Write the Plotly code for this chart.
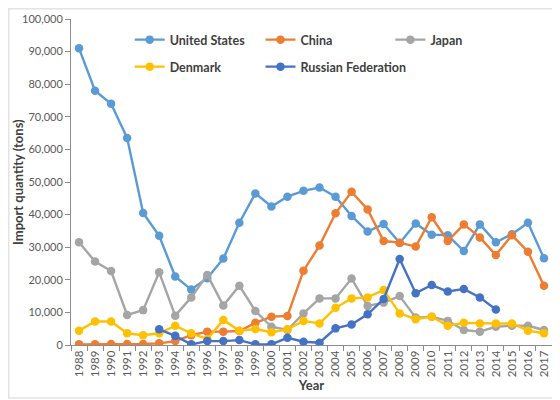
import plotly.graph_objects as go

years = [str(y) for y in range(1988, 2018)]

united_states = [91000, 78000, 74000, 63500, 40500, 33500, 21000, 17000, 20500, 26500,
                 37500, 46500, 42500, 45500, 47300, 48300, 45500, 39600, 34800, 37100,
                 31300, 37300, 33800, 33700, 28800, 37000, 31500, 34000, 37500, 26600]
china = [200, 200, 300, 300, 300, 500, 1200, 3000, 4100, 4100,
         4300, 6800, 8700, 8900, 22800, 30500, 40400, 47000, 41600, 31900,
         31400, 30200, 39200, 31900, 37000, 33000, 27600, 33700, 28600, 18200]
japan = [31500, 25600, 22700, 9200, 10700, 22300, 9000, 14600, 21500, 12100,
         18200, 10400, 5600, 4600, 9700, 14300, 14300, 20400, 12000, 13000,
         15000, 8400, 8700, 7400, 4600, 4100, 5600, 5900, 5900, 4600]
denmark = [4400, 7200, 7200, 3600, 3000, 3600, 5900, 3600, 1800, 7700,
           4400, 4900, 3900, 4800, 7400, 6600, 11400, 14300, 14600, 16900,
           9700, 7900, 8700, 5900, 6800, 6600, 6600, 6600, 4400, 3600]
russia = [None, None, None, None, None, 4800, 2800, 200, 1200, 1200,
          1500, 200, 200, 2200, 1000, 700, 5100, 6300, 9400, 14100,
          26400, 15900, 18400, 16400, 17200, 14600, 10900, None, None, None]

# (name, values, colour, legend id, legend x (paper), legend y (paper))
series = [
    ("United States", united_states, "#5B9BD5", "legend", 0.122, (346 - 41) / 326),
    ("China", china, "#ED7D31", "legend2", 0.394, (346 - 41) / 326),
    ("Japan", japan, "#A5A5A5", "legend3", 0.664, (346 - 41) / 326),
    ("Denmark", denmark, "#FFC000", "legend4", 0.122, (346 - 68) / 326),
    ("Russian Federation", russia, "#4472C4", "legend5", 0.394, (346 - 68) / 326),
]

FONT = "Lato"
TXT = "#404040"
TICK = "#595959"

fig = go.Figure()
legends = {}
for name, vals, color, lg, lx, ly in series:
    fig.add_trace(go.Scatter(
        x=years, y=vals, name=name, mode="lines+markers",
        line=dict(color=color, width=2.4),
        marker=dict(color=color, size=8.5),
        legend=lg,
    ))
    legends[lg] = dict(
        x=lx, y=ly, xanchor="left", yanchor="middle",
        font=dict(family=FONT, size=12.5, color=TXT, weight="bold"),
        bgcolor="rgba(0,0,0,0)", itemwidth=30,
    )

fig.update_layout(
    width=552, height=392,
    paper_bgcolor="white", plot_bgcolor="white",
    margin=dict(l=63, r=8, t=11, b=55),
    font=dict(family=FONT, color=TICK),
    showlegend=True,
    **legends,
    xaxis=dict(
        type="category", range=[-0.5, 29.5], automargin=False,
        tickangle=-90, tickfont=dict(size=11.5, color=TICK, family=FONT),
        showline=True, linecolor="#8c8c8c", linewidth=1,
        ticks="outside", ticklen=5, tickcolor="#8c8c8c", tickson="boundaries",
        showgrid=False, zeroline=False,
        title=dict(text="<b>Year</b>", font=dict(size=13, color=TXT, family=FONT), standoff=4),
    ),
    yaxis=dict(
        range=[0, 100000], dtick=10000, tickformat=",", automargin=False,
        tickfont=dict(size=11, color=TICK, family=FONT),
        showline=True, linecolor="#8c8c8c", linewidth=1,
        ticks="outside", ticklen=5, tickcolor="#8c8c8c",
        showgrid=False, zeroline=False,
    ),
    annotations=[dict(
        text="<b>Import quantity (tons)</b>", xref="paper", yref="paper",
        x=(18 - 71) / 481, y=0.5, xanchor="center", yanchor="middle",
        textangle=-90, showarrow=False,
        font=dict(size=13, color=TXT, family=FONT),
    )],
    shapes=[dict(
        type="rect", xref="paper", yref="paper",
        x0=(0.75 - 63) / 481, x1=(570 - 63) / 481,
        y0=(337 - 390) / 326, y1=(337 - 0.75) / 326,
        line=dict(color="#e3e3e3", width=1.5), layer="below",
    )],
)

fig.write_html("out.html")
